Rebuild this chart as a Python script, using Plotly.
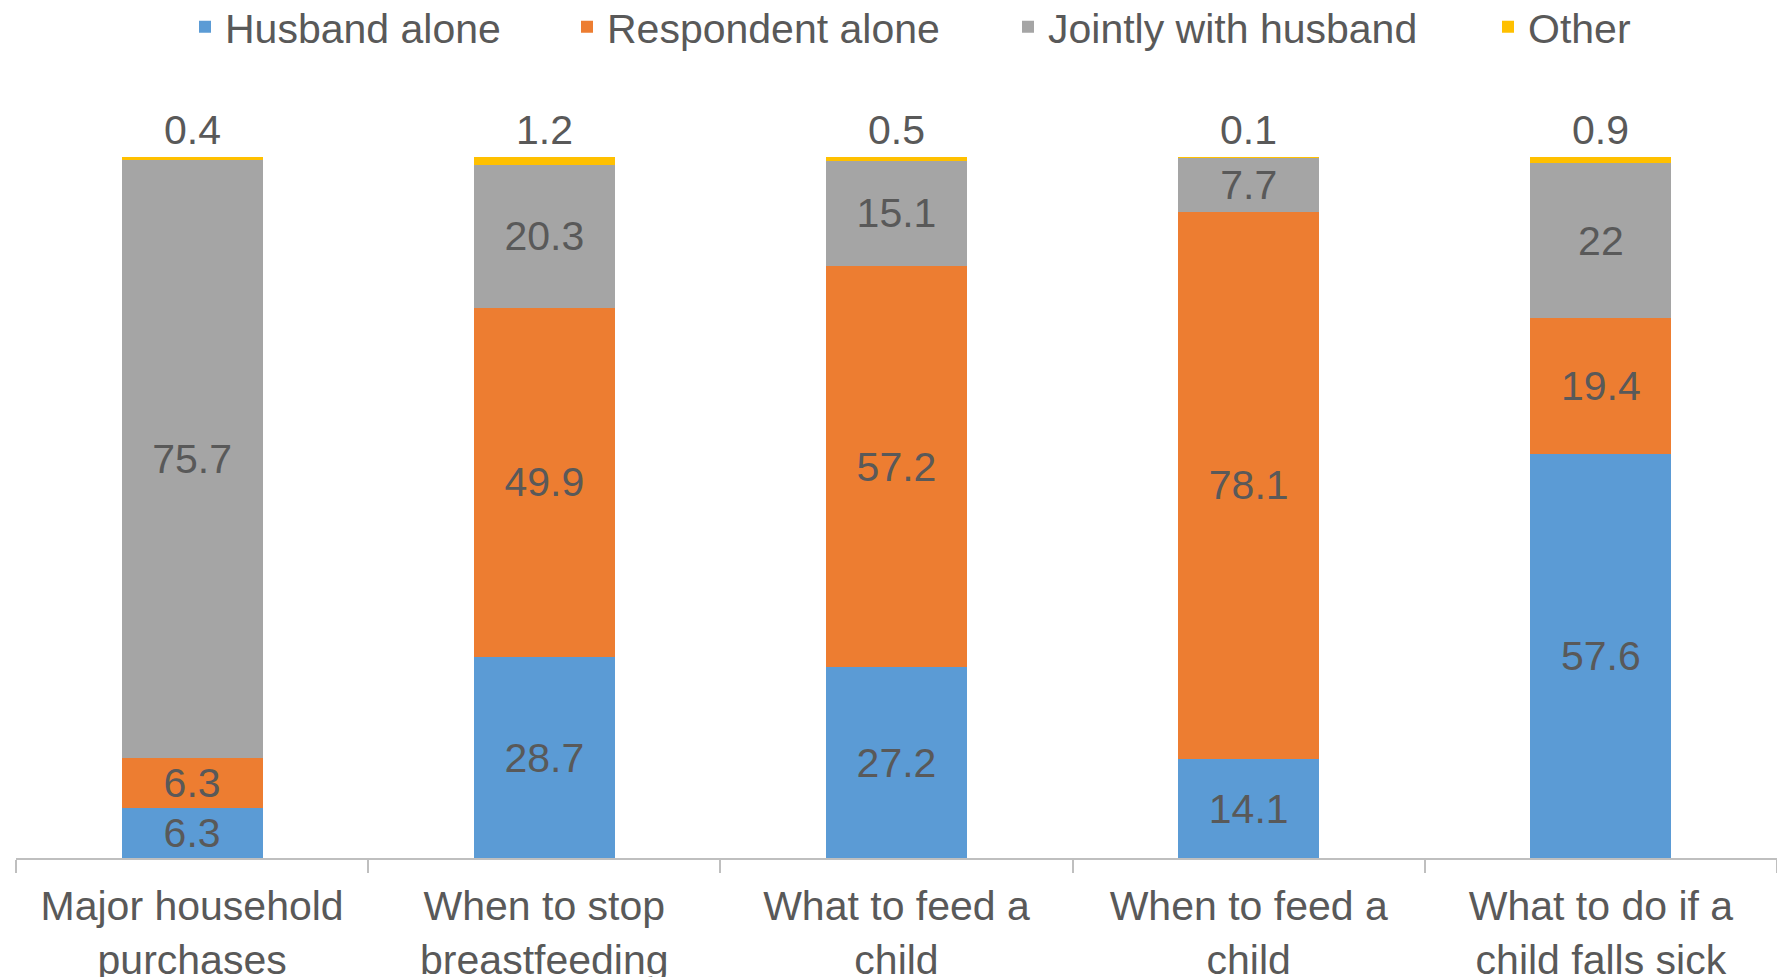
import plotly.graph_objects as go

categories = ["Major household<br>purchases", "When to stop<br>breastfeeding",
              "What to feed a<br>child", "When to feed a<br>child",
              "What to do if a<br>child falls sick"]
husband_alone = [6.3, 28.7, 27.2, 14.1, 57.6]
respondent_alone = [6.3, 49.9, 57.2, 78.1, 19.4]
jointly = [75.7, 20.3, 15.1, 7.7, 22]
other = [0.4, 1.2, 0.5, 0.1, 0.9]

series = [
    ("Husband alone", husband_alone, "#5B9BD5", "inside", 205),
    ("Respondent alone", respondent_alone, "#ED7D31", "inside", 587),
    ("Jointly with husband", jointly, "#A5A5A5", "inside", 1028),
    ("Other", other, "#FFC000", "none", 1508),
]

FONT = "Liberation Sans, Arial, sans-serif"
TXT = "#595959"
FS = 41
W, H = 1777, 977

fig = go.Figure()
legends = {}
for i, (name, vals, color, pos, lx) in enumerate(series):
    lname = "legend" if i == 0 else f"legend{i+1}"
    fig.add_trace(go.Bar(
        x=categories, y=vals, name=name,
        marker=dict(color=color, line=dict(width=0)),
        text=[f"{v:g}" for v in vals],
        texttemplate="%{text}",
        textposition=pos,
        insidetextanchor="middle",
        textfont=dict(family=FONT, size=FS, color=TXT),
        cliponaxis=False,
        hoverinfo="skip",
        legend=lname,
        showlegend=True,
    ))
    legends[lname] = dict(orientation="h", xref="container", yref="container",
                          x=(lx - 20) / W, xanchor="left",
                          y=1 - 27 / H, yanchor="middle",
                          font=dict(family=FONT, size=FS, color=TXT),
                          bgcolor="rgba(0,0,0,0)", visible=True)

# labels for the thin "Other" segments, placed above the top of each stack
for cat, v in zip(categories, other):
    fig.add_annotation(x=cat, y=100, xref="x", yref="y", text=f"{v:g}",
                       showarrow=False, yanchor="bottom", yshift=2,
                       font=dict(family=FONT, size=FS, color=TXT))

fig.update_layout(
    barmode="stack",
    barnorm="percent",
    bargap=0.6,
    width=W, height=H,
    margin=dict(l=16, r=0, t=157, b=119, autoexpand=False),
    paper_bgcolor="white", plot_bgcolor="white",
    font=dict(family=FONT, size=FS, color=TXT),
    uniformtext=dict(minsize=FS, mode="show"),
    showlegend=True,
    xaxis=dict(showline=True, linecolor="#BFBFBF", linewidth=2,
               ticks="outside", tickson="boundaries", ticklen=13,
               tickcolor="#BFBFBF", tickwidth=1.5,
               ticklabelstandoff=11, automargin=False,
               tickfont=dict(family=FONT, size=FS, color=TXT),
               showgrid=False, zeroline=False),
    yaxis=dict(range=[0, 100], visible=False, showgrid=False),
    **legends,
)

fig.write_html("out.html")
